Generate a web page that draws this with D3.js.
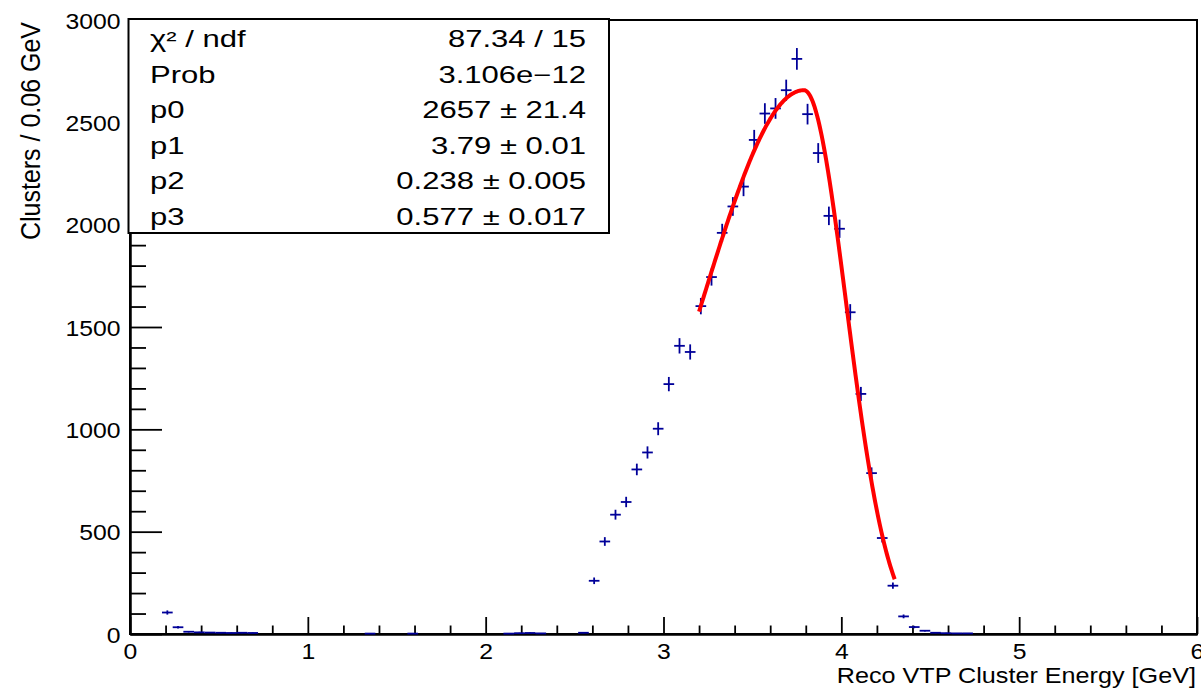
<!DOCTYPE html>
<html>
<head>
<meta charset="utf-8">
<script src="https://cdn.jsdelivr.net/npm/d3@7"></script>
<style>
  body { margin: 0; background: #fff; }
  text { font-family: "Liberation Sans", Arial, Helvetica, sans-serif; fill: #000; }
</style>
</head>
<body>
<svg id="chart" width="1201" height="690"></svg>
<script>
// histogram: 100 bins of 0.06 GeV from 0 to 6
const binLow = 0;
const binWidth = 0.06;
const counts = [
  0, 0, 0, 105, 33, 11, 8, 7, 6, 5,
  6, 5, 0, 0, 0, 0, 0, 0, 0, 0,
  0, 0, 2, 0, 0, 0, 2, 0, 0, 0,
  0, 0, 0, 0, 0, 2, 4, 5, 3, 0,
  0, 0, 6, 260, 452, 583, 645, 804, 887, 1003,
  1221, 1408, 1378, 1602, 1744, 1960, 2089, 2186, 2414, 2543,
  2568, 2657, 2810, 2540, 2350, 2043, 1980, 1572, 1173, 786,
  469, 236, 86, 34, 16, 6, 4, 3, 3, 0,
  0, 0, 0, 0, 0, 0, 0, 0, 0, 0,
  0, 0, 0, 0, 0, 0, 0, 0, 0, 0
];

// fit result shown in the stats box (asymmetric gaussian)
const fitPars = [2657, 3.79, 0.238, 0.577];
const fitRange = [3.2, 4.3];

const statNames = ["\u03c7\u00b2 / ndf", "Prob", "p0", "p1", "p2", "p3"];
const statValues = ["87.34 / 15", "3.106e\u221212", "2657 \u00b1 21.4", "3.79 \u00b1 0.01",
                    "0.238 \u00b1 0.005", "0.577 \u00b1 0.017"];

const xTicks = [0, 1, 2, 3, 4, 5, 6];
const yTicks = [0, 500, 1000, 1500, 2000, 2500, 3000];
const xTitle = "Reco VTP Cluster Energy [GeV]";
const yTitle = "Clusters / 0.06 GeV";

const svg = d3.select("#chart");
const padL = 130, padR = 1197, padT = 20, padB = 634;

const x = d3.scaleLinear().domain([0, 6]).range([padL, padR]);
const y = d3.scaleLinear().domain([0, 3000]).range([padB, padT]);

// frame
svg.append("rect")
  .attr("x", padL).attr("y", padT)
  .attr("width", padR - padL).attr("height", padB - padT)
  .attr("fill", "none").attr("stroke", "#000").attr("stroke-width", 2);

// x axis
const xMinor = d3.range(0, 31).map(d => d * 0.2).filter(d => Math.abs(d - Math.round(d)) > 1e-6);
const gxMinor = svg.append("g").attr("transform", `translate(0,${padB})`)
  .call(d3.axisBottom(x).tickValues(xMinor).tickSizeInner(-8.5).tickSizeOuter(0).tickFormat(""));
const gx = svg.append("g").attr("transform", `translate(0,${padB})`)
  .call(d3.axisBottom(x).tickValues(xTicks).tickSizeInner(-17).tickSizeOuter(0).tickFormat(d3.format("d")));
gx.selectAll("text")
  .attr("y", null).attr("dy", null)
  .attr("font-size", 22.5)
  .attr("text-anchor", "middle")
  .attr("transform", "translate(0,25) scale(1.1,1)");

// y axis
const yMinor = d3.range(0, 3001, 100).filter(d => d % 500 !== 0);
const gyMinor = svg.append("g").attr("transform", `translate(${padL},0)`)
  .call(d3.axisLeft(y).tickValues(yMinor).tickSizeInner(-16).tickSizeOuter(0).tickFormat(""));
const gy = svg.append("g").attr("transform", `translate(${padL},0)`)
  .call(d3.axisLeft(y).tickValues(yTicks).tickSizeInner(-32).tickSizeOuter(0).tickFormat(d3.format("d")));
gy.selectAll("text")
  .attr("x", null).attr("dy", null)
  .attr("font-size", 22.5)
  .attr("text-anchor", "end")
  .attr("transform", "translate(-9.5,8.3) scale(1.1,1)");

[gx, gxMinor, gy, gyMinor].forEach(g => {
  g.selectAll("line").attr("stroke", "#000").attr("stroke-width", 1.8);
  g.select(".domain").attr("stroke", "#000").attr("stroke-width", 2);
});

// axis titles
svg.append("text")
  .attr("font-size", 22.5)
  .attr("text-anchor", "end")
  .attr("transform", "translate(1196,683) scale(1.12,1)")
  .text(xTitle);

svg.append("text")
  .attr("font-size", 25)
  .attr("text-anchor", "end")
  .attr("transform", "translate(40,22) rotate(-90) scale(1,1.1)")
  .text(yTitle);

// histogram points with poisson error bars
const bins = counts.map((c, i) => ({
  lo: binLow + i * binWidth,
  hi: binLow + (i + 1) * binWidth,
  mid: binLow + (i + 0.5) * binWidth,
  c: c,
  err: Math.sqrt(c)
})).filter(d => d.c > 0);

const pts = svg.append("g").attr("stroke", "#000099").attr("stroke-width", 1.8);
pts.selectAll(".h").data(bins).enter().append("line")
  .attr("x1", d => x(d.lo)).attr("x2", d => x(d.hi))
  .attr("y1", d => y(d.c)).attr("y2", d => y(d.c));
pts.selectAll(".v").data(bins).enter().append("line")
  .attr("x1", d => x(d.mid)).attr("x2", d => x(d.mid))
  .attr("y1", d => y(d.c - d.err)).attr("y2", d => y(d.c + d.err));

// fit curve
const fitFn = v => {
  const s = v < fitPars[1] ? fitPars[3] : fitPars[2];
  return fitPars[0] * Math.exp(-0.5 * Math.pow((v - fitPars[1]) / s, 2));
};
const fitPts = d3.range(fitRange[0], fitRange[1] + 1e-9, 0.005).map(v => [v, fitFn(v)]);
svg.append("path")
  .datum(fitPts)
  .attr("fill", "none")
  .attr("stroke", "#ff0000")
  .attr("stroke-width", 4)
  .attr("d", d3.line().x(d => x(d[0])).y(d => y(d[1])));

// stats box
svg.append("rect")
  .attr("x", 128.5).attr("y", 19)
  .attr("width", 480.5).attr("height", 214)
  .attr("fill", "#fff").attr("stroke", "#000").attr("stroke-width", 2);

const rows = svg.append("g");
statNames.forEach((name, i) => {
  const by = 47 + 35.6 * i;
  rows.append("text")
    .attr("font-size", 23)
    .attr("transform", `translate(150,${by}) scale(1.35,1)`)
    .text(name);
  rows.append("text")
    .attr("font-size", 23)
    .attr("text-anchor", "end")
    .attr("transform", `translate(586,${by}) scale(1.35,1)`)
    .text(statValues[i]);
});
</script>
</body>
</html>
